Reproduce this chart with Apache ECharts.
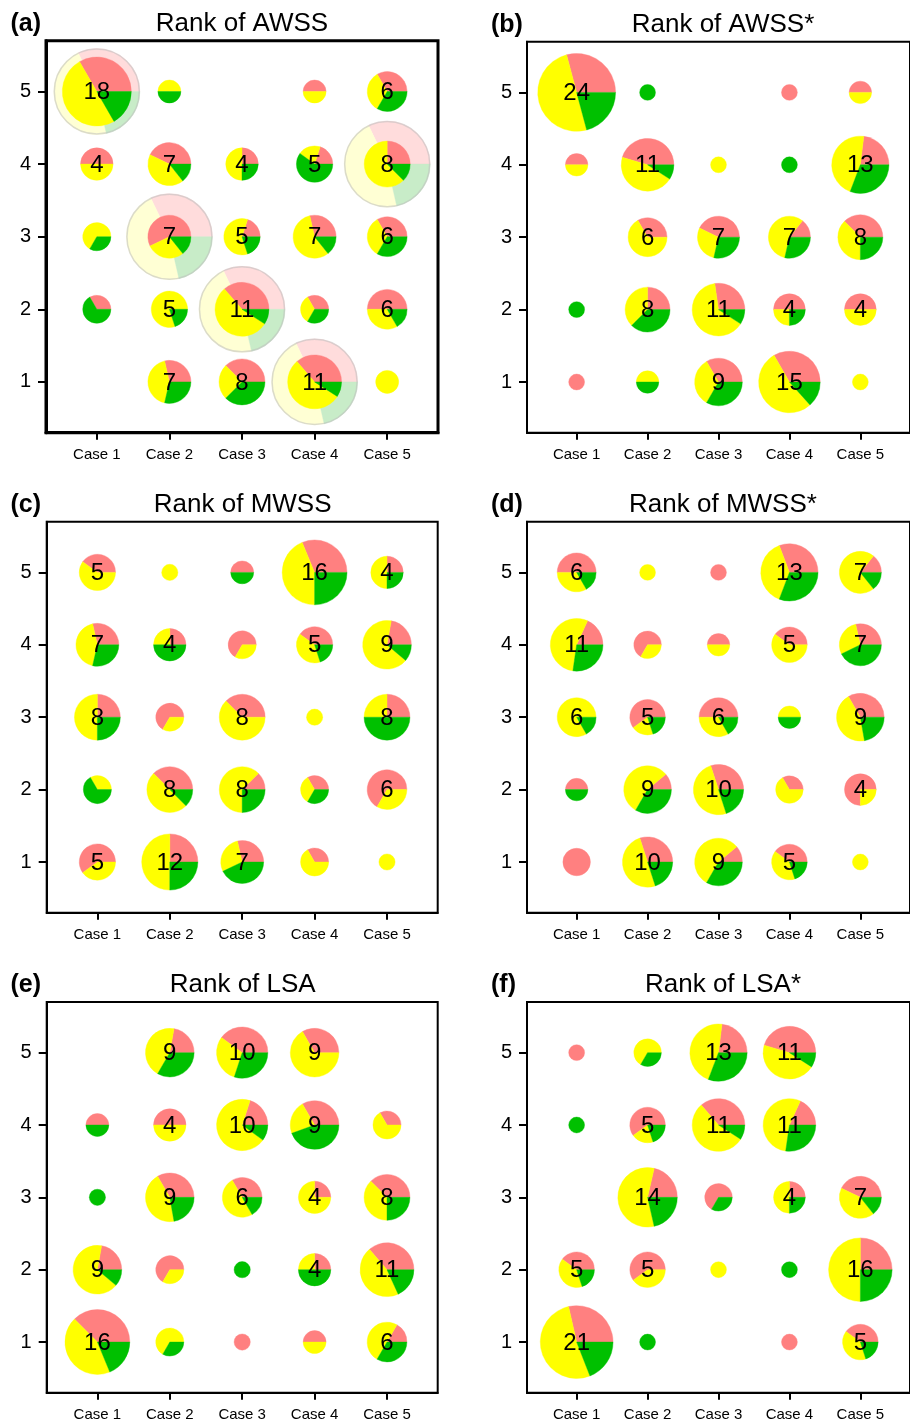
<!DOCTYPE html>
<html><head><meta charset="utf-8">
<script src="https://cdn.jsdelivr.net/npm/echarts@6/dist/echarts.min.js"></script>
<style>html,body{margin:0;padding:0;background:#fff}#c{width:910px;height:1424px}</style>
</head><body><div id="c"></div>
<script>
// ---------------- data ----------------
const cases = ['Case 1', 'Case 2', 'Case 3', 'Case 4', 'Case 5'];
const rankTicks = [1, 2, 3, 4, 5];
const panelTitles = ['Rank of AWSS', 'Rank of AWSS*', 'Rank of MWSS', 'Rank of MWSS*', 'Rank of LSA', 'Rank of LSA*'];
const panelLetters = ['(a)', '(b)', '(c)', '(d)', '(e)', '(f)'];

// matrices: rows = rank 5 (top) .. rank 1 (bottom); columns = Case 1 .. Case 5
const awssRed    = [[6,0,0,1,2],[2,3,1,1,2],[0,4,1,2,2],[1,0,4,1,3],[0,2,3,4,0]];
const awssYellow = [[9,1,0,1,2],[2,3,2,1,5],[2,2,3,4,2],[0,4,6,1,2],[0,3,2,6,2]];
const awssGreen  = [[3,1,0,0,2],[0,1,1,3,1],[1,1,1,1,2],[2,1,1,1,1],[0,2,3,1,0]];

const awssStarRed    = [[7,0,0,1,1],[1,5,0,0,3],[0,2,3,1,3],[0,2,3,2,2],[1,0,3,5,0]];
const awssStarYellow = [[12,0,0,0,1],[1,5,1,0,6],[0,4,2,4,3],[0,3,7,1,2],[0,1,3,8,1]];
const awssStarGreen  = [[5,1,0,0,0],[0,1,0,1,4],[0,0,2,2,2],[1,3,1,1,0],[0,1,3,2,0]];

const mwssRed    = [[2,0,1,5,1],[2,1,2,2,2],[2,2,3,0,2],[0,3,1,1,4],[3,3,2,1,0]];
const mwssYellow = [[3,1,0,7,2],[3,1,1,2,6],[4,1,5,1,2],[1,4,5,1,2],[2,6,2,2,1]];
const mwssGreen  = [[0,0,1,4,1],[2,2,0,1,1],[2,0,0,0,4],[2,1,2,1,0],[0,3,3,0,0]];

const mwssStarRed    = [[3,0,1,4,1],[2,2,1,2,2],[0,3,3,0,3],[1,1,3,1,3],[3,3,1,2,0]];
const mwssStarYellow = [[2,1,0,5,5],[6,1,1,3,2],[5,1,2,1,4],[0,5,5,2,1],[0,5,5,2,1]];
const mwssStarGreen  = [[1,0,0,4,1],[3,0,0,0,3],[1,1,1,1,2],[1,3,2,0,0],[0,2,3,1,0]];

const lsaRed    = [[0,2,4,3,0],[1,2,2,3,1],[0,3,2,1,3],[2,2,0,1,4],[6,0,1,1,1]];
const lsaYellow = [[0,4,3,6,0],[0,2,7,2,2],[0,4,3,3,3],[6,1,0,1,5],[7,2,0,1,3]];
const lsaGreen  = [[0,3,3,0,0],[1,0,1,4,0],[1,2,1,0,2],[1,0,1,2,2],[3,1,0,0,2]];

const lsaStarRed    = [[1,0,3,5,0],[0,3,4,2,0],[0,3,2,1,3],[2,3,0,0,4],[6,0,0,1,2]];
const lsaStarYellow = [[0,2,6,5,0],[0,1,6,6,0],[0,8,0,2,3],[2,2,1,0,8],[11,0,0,0,2]];
const lsaStarGreen  = [[0,1,4,1,0],[1,1,1,3,0],[0,3,1,1,1],[1,0,0,1,4],[4,1,0,0,1]];

// overall composition (red, yellow, green) shown as faded pies in panel (a)
const overallShares = [9, 13, 6];
const awssHighlightCells = [[1,5],[5,4],[2,3],[3,2],[4,1]];

// ---------------- styling / layout ----------------
const COLORS = ['#FF8080', '#FFFF00', '#00C000'];
const HALO = ['#FFDCDC', '#FFFFD4', '#C8ECC8'];
const FONT = '"Liberation Sans", Arial, Helvetica, sans-serif';
const panels = [
  {left: 46,  top: 40.7, w: 392, h: 392, m: [awssRed, awssYellow, awssGreen], bw: 3},
  {left: 527, top: 41.7, w: 392, h: 391, m: [awssStarRed, awssStarYellow, awssStarGreen], bw: 2},
  {left: 46.7,top: 521.7,w: 391, h: 391, m: [mwssRed, mwssYellow, mwssGreen], bw: 2},
  {left: 527, top: 521.7,w: 392, h: 391, m: [mwssStarRed, mwssStarYellow, mwssStarGreen], bw: 2},
  {left: 46.7,top: 1002, w: 391, h: 390.7, m: [lsaRed, lsaYellow, lsaGreen], bw: 2},
  {left: 527, top: 1002, w: 392, h: 390.7, m: [lsaStarRed, lsaStarYellow, lsaStarGreen], bw: 2}
];

function buildCells(red, yellow, green) {
  const out = [];
  for (let i = 0; i < 5; i++) for (let j = 0; j < 5; j++) {
    const t = red[i][j] + yellow[i][j] + green[i][j];
    if (t > 0) out.push([j + 1, 5 - i, red[i][j], yellow[i][j], green[i][j]]);
  }
  return out;
}

function makeRender(colors, halo) {
  return function (params, api) {
    const c = api.coord([api.value(0), api.value(1)]);
    const parts = [api.value(2), api.value(3), api.value(4)];
    const n = parts[0] + parts[1] + parts[2];
    const unit = api.size([1, 1])[0];
    const r = 0.112 * Math.sqrt(n) * unit;
    const children = [];
    let acc = 0;
    parts.forEach((v, k) => {
      if (!v) return;
      const a0 = acc / n * 2 * Math.PI, a1 = (acc + v) / n * 2 * Math.PI;
      acc += v;
      children.push({
        type: 'sector',
        shape: {cx: c[0], cy: c[1], r0: 0, r: r, startAngle: -a1, endAngle: -a0, clockwise: true},
        style: {fill: colors[k], stroke: colors[k], lineWidth: 0.4}
      });
    });
    if (halo) {
      children.push({type: 'circle', shape: {cx: c[0], cy: c[1], r: r - 0.5},
        style: {fill: null, stroke: 'rgba(190,190,190,0.55)', lineWidth: 1.5}});
    } else if (n >= 4) {
      children.push({type: 'text', style: {
        text: String(n), x: c[0], y: c[1] + 1,
        textAlign: 'center', textVerticalAlign: 'middle', align: 'center', verticalAlign: 'middle',
        font: '24px ' + FONT, fill: '#000'
      }});
    }
    return {type: 'group', children: children};
  };
}

const grids = [], xAxes = [], yAxes = [], series = [], graphics = [];
panels.forEach((p, i) => {
  grids.push({left: p.left, top: p.top, width: p.w, height: p.h, show: true,
    borderColor: '#000', borderWidth: p.bw, backgroundColor: 'transparent'});
  xAxes.push({type: 'value', gridIndex: i, min: 0.3, max: 5.7,
    axisLine: {show: true, lineStyle: {color: '#000', width: p.bw}},
    axisTick: {show: true, customValues: rankTicks, length: 7, lineStyle: {color: '#000', width: 2}},
    axisLabel: {customValues: rankTicks, formatter: v => cases[Math.round(v) - 1], color: '#000',
      fontSize: 15, fontFamily: FONT, margin: 15},
    splitLine: {show: false}});
  yAxes.push({type: 'value', gridIndex: i, min: 0.3, max: 5.7,
    axisLine: {show: true, lineStyle: {color: '#000', width: p.bw}},
    axisTick: {show: true, customValues: rankTicks, length: 8, lineStyle: {color: '#000', width: 2}},
    axisLabel: {customValues: rankTicks, formatter: v => String(Math.round(v)), color: '#000',
      fontSize: 20, fontFamily: FONT, margin: 15},
    splitLine: {show: false}});
  if (i === 0) {
    series.push({type: 'custom', xAxisIndex: 0, yAxisIndex: 0, z: 1, silent: true,
      encode: {x: 0, y: 1},
      data: awssHighlightCells.map(cell => [cell[0], cell[1]].concat(overallShares)),
      renderItem: makeRender(HALO, true)});
  }
  series.push({type: 'custom', xAxisIndex: i, yAxisIndex: i, z: 3, silent: true,
    encode: {x: 0, y: 1},
    data: buildCells(p.m[0], p.m[1], p.m[2]),
    renderItem: makeRender(COLORS, false)});
  graphics.push({type: 'text', x: p.left + 196, y: p.top - 17, silent: true,
    style: {text: panelTitles[i], textAlign: 'center', textVerticalAlign: 'middle', align: 'center', verticalAlign: 'middle',
      font: '26px ' + FONT, fill: '#000'}});
  graphics.push({type: 'text', x: p.left < 100 ? 10.5 : 491, y: p.top - 17, silent: true,
    style: {text: panelLetters[i], textAlign: 'left', textVerticalAlign: 'middle', align: 'left', verticalAlign: 'middle',
      font: 'bold 25px ' + FONT, fill: '#000'}});
});

const chart = echarts.init(document.getElementById('c'), null, {renderer: 'canvas'});
chart.setOption({
  animation: false,
  backgroundColor: '#fff',
  grid: grids, xAxis: xAxes, yAxis: yAxes, series: series,
  graphic: graphics
});
</script></body></html>
